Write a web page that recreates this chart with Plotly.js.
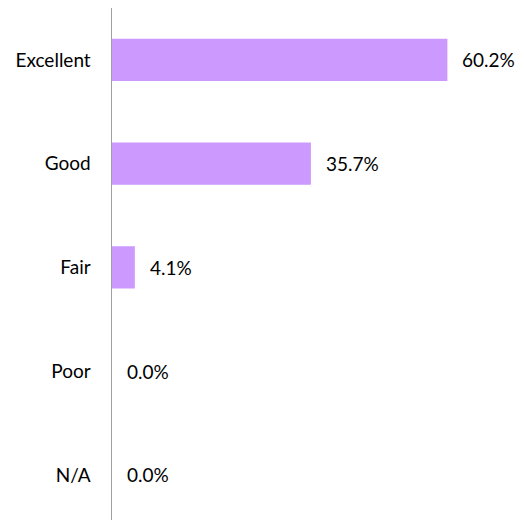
<!DOCTYPE html>
<html><head><meta charset="utf-8">
<script src="https://cdn.plot.ly/plotly-3.0.1.min.js"></script>
<style>html,body{margin:0;padding:0;background:#fff}#c{width:524px;height:520px}</style>
</head><body><div id="c"></div>
<script>
const categories = ["Excellent", "Good", "Fair", "Poor", "N/A"];
const percents = [60.2, 35.7, 4.1, 0.0, 0.0];
const labels = percents.map(v => v.toFixed(1) + "%");

const font = {family: "Lato, 'Noto Sans', sans-serif", size: 19, color: "#000"};

const trace = {
  type: "bar", orientation: "h",
  y: categories, x: percents,
  marker: {color: "#CC99FF"},
  hoverinfo: "none"
};

const annotations = categories.map((c, i) => ({
  x: percents[i], y: c, xref: "x", yref: "y",
  text: labels[i], showarrow: false, xanchor: "left", yanchor: "middle",
  xshift: 13, font: font
}));

const layout = {
  width: 524, height: 520,
  margin: {l: 112, r: 22, t: 8, b: 0},
  paper_bgcolor: "#fff", plot_bgcolor: "#fff",
  bargap: 0.595,
  showlegend: false,
  font: font,
  xaxis: {range: [0, 70], showgrid: false, zeroline: false, showticklabels: false, showline: false, ticks: ""},
  yaxis: {type: "category", range: [4.435, -0.5], showgrid: false, zeroline: false,
          showline: true, linecolor: "#A0A0A0", linewidth: 1.5, ticks: "", ticklabelstandoff: 16,
          tickfont: font},
  annotations: annotations
};
Plotly.newPlot("c", [trace], layout, {displayModeBar: false, staticPlot: true});
</script></body></html>
